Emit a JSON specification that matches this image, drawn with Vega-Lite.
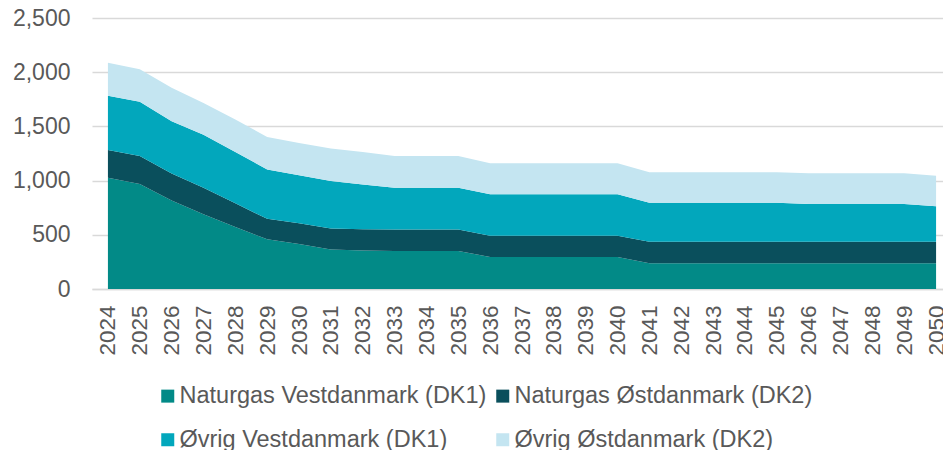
{
  "$schema": "https://vega.github.io/schema/vega-lite/v6.json",
  "width": 860,
  "height": 271,
  "autosize": {"type": "none"},
  "padding": {"left": 92, "top": 18, "right": 0, "bottom": 161},
  "background": "white",
  "config": {"font": "Liberation Sans", "view": {"stroke": null}},
  "datasets": {
    "wide": [
      {"year": "2024", "nv": 1026, "no": 257, "ov": 500, "oo": 305},
      {"year": "2025", "nv": 968, "no": 260, "ov": 499, "oo": 300},
      {"year": "2026", "nv": 816, "no": 250, "ov": 482, "oo": 309},
      {"year": "2027", "nv": 690, "no": 244, "ov": 490, "oo": 293},
      {"year": "2028", "nv": 571, "no": 220, "ov": 473, "oo": 300},
      {"year": "2029", "nv": 460, "no": 187, "ov": 456, "oo": 299},
      {"year": "2030", "nv": 414, "no": 193, "ov": 443, "oo": 297},
      {"year": "2031", "nv": 365, "no": 193, "ov": 439, "oo": 298},
      {"year": "2032", "nv": 356, "no": 196, "ov": 413, "oo": 299},
      {"year": "2033", "nv": 350, "no": 199, "ov": 385, "oo": 294},
      {"year": "2034", "nv": 350, "no": 199, "ov": 385, "oo": 294},
      {"year": "2035", "nv": 350, "no": 199, "ov": 385, "oo": 294},
      {"year": "2036", "nv": 296, "no": 195, "ov": 382, "oo": 288},
      {"year": "2037", "nv": 296, "no": 195, "ov": 382, "oo": 288},
      {"year": "2038", "nv": 296, "no": 195, "ov": 382, "oo": 288},
      {"year": "2039", "nv": 296, "no": 195, "ov": 382, "oo": 288},
      {"year": "2040", "nv": 296, "no": 195, "ov": 382, "oo": 288},
      {"year": "2041", "nv": 238, "no": 197, "ov": 360, "oo": 282},
      {"year": "2042", "nv": 238, "no": 197, "ov": 360, "oo": 282},
      {"year": "2043", "nv": 238, "no": 197, "ov": 360, "oo": 282},
      {"year": "2044", "nv": 238, "no": 197, "ov": 360, "oo": 282},
      {"year": "2045", "nv": 238, "no": 197, "ov": 360, "oo": 282},
      {"year": "2046", "nv": 238, "no": 197, "ov": 350, "oo": 283},
      {"year": "2047", "nv": 238, "no": 197, "ov": 350, "oo": 283},
      {"year": "2048", "nv": 238, "no": 197, "ov": 350, "oo": 283},
      {"year": "2049", "nv": 238, "no": 197, "ov": 350, "oo": 283},
      {"year": "2050", "nv": 238, "no": 197, "ov": 329, "oo": 280}
    ]
  },
  "data": {"name": "wide"},
  "transform": [
    {"fold": ["nv", "no", "ov", "oo"], "as": ["key", "value"]},
    {"lookup": "key", "from": {"data": {"values": [
      {"key": "nv", "serie": "Naturgas Vestdanmark (DK1)"},
      {"key": "no", "serie": "Naturgas Østdanmark (DK2)"},
      {"key": "ov", "serie": "Øvrig Vestdanmark (DK1)"},
      {"key": "oo", "serie": "Øvrig Østdanmark (DK2)"}
    ]}, "key": "key", "fields": ["serie"]}}
  ],
  "mark": {"type": "area", "interpolate": "linear"},
  "encoding": {
    "x": {
      "field": "year", "type": "ordinal",
      "scale": {"type": "point", "padding": 0.5},
      "axis": {"labelAngle": -90, "labelFontSize": 22.5, "labelColor": "#595959", "labelPadding": 16, "ticks": false, "domainColor": "#D9D9D9", "domainWidth": 1.5, "title": null, "grid": false}
    },
    "y": {
      "field": "value", "type": "quantitative", "stack": "zero",
      "scale": {"domain": [0, 2500], "nice": false},
      "axis": {"values": [0, 500, 1000, 1500, 2000, 2500], "format": ",d", "labelFontSize": 23, "labelColor": "#595959", "labelPadding": 22, "ticks": false, "domain": false, "gridColor": "#D9D9D9", "gridWidth": 1.5, "title": null}
    },
    "color": {
      "field": "serie", "type": "nominal",
      "scale": {
        "domain": ["Naturgas Vestdanmark (DK1)", "Naturgas Østdanmark (DK2)", "Øvrig Vestdanmark (DK1)", "Øvrig Østdanmark (DK2)"],
        "range": ["#028A87", "#0A4F5C", "#02A7BC", "#C4E5F1"]
      },
      "legend": {
        "orient": "none", "direction": "horizontal", "legendX": 64, "legendY": 366, "columns": 2, "title": null,
        "symbolType": "square", "symbolSize": 169, "symbolStrokeWidth": 0,
        "labelFontSize": 23.5, "labelColor": "#595959", "labelOffset": 0, "labelLimit": 500,
        "columnPadding": 4, "rowPadding": 19, "padding": 0
      }
    },
    "order": {"field": "serie", "type": "nominal", "sort": "ascending"}
  }
}
